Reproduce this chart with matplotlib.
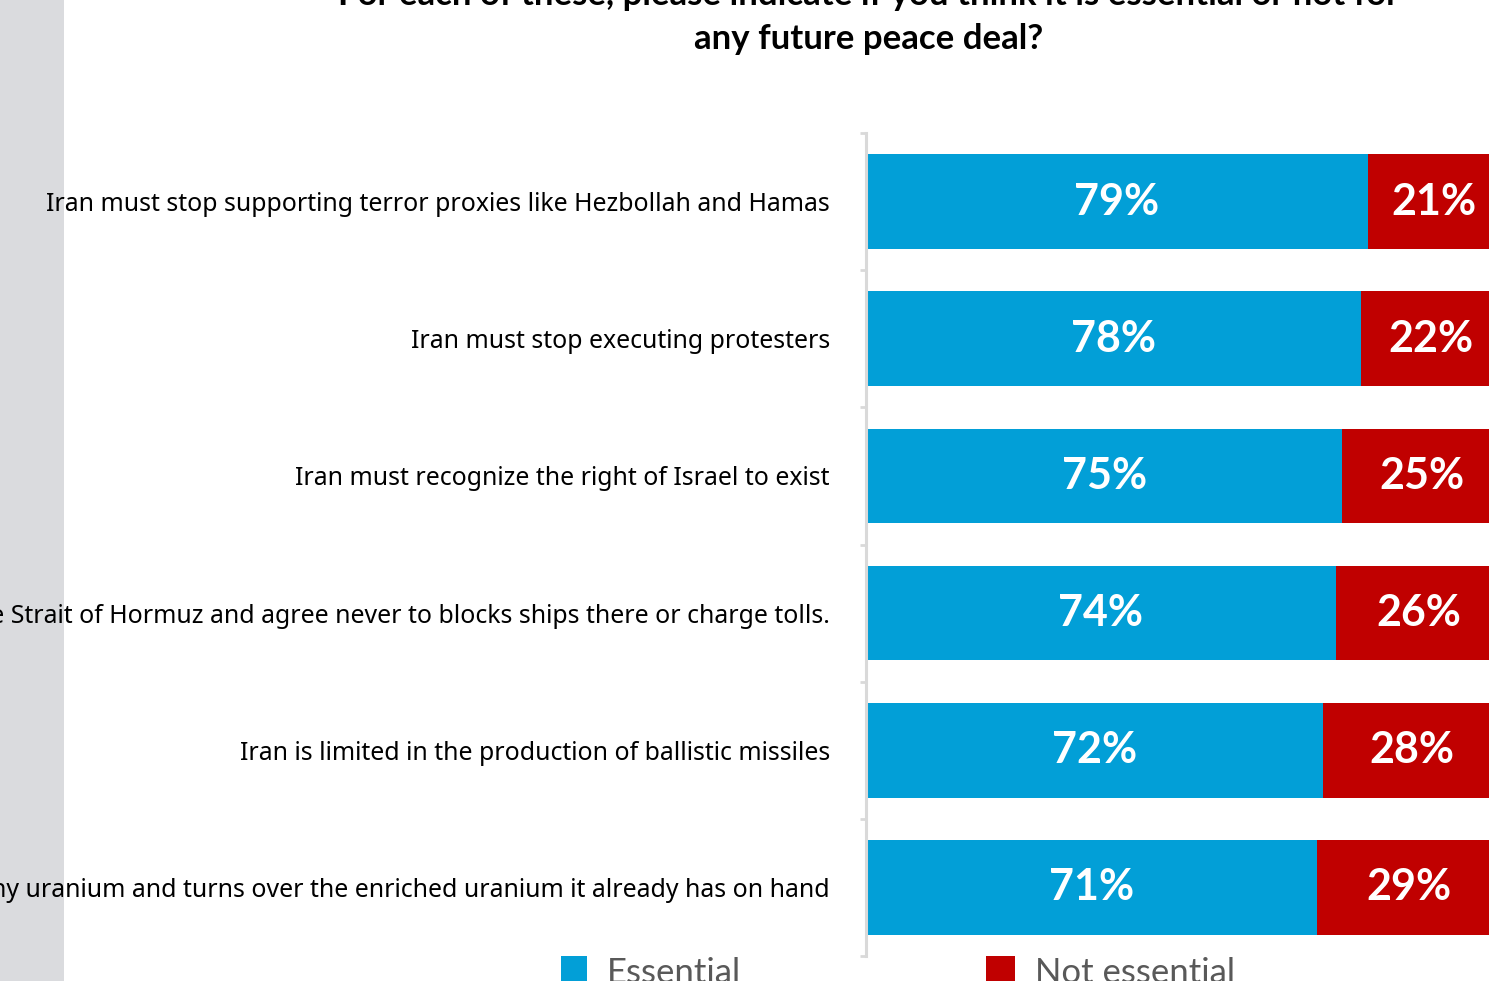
import numpy as np
import matplotlib.pyplot as plt
from matplotlib.patches import Rectangle

plt.rcParams['font.family'] = ['Lato', 'DejaVu Sans']

# survey items, top to bottom
items = [
    "Iran must stop supporting terror proxies like Hezbollah and Hamas",
    "Iran must stop executing protesters",
    "Iran must recognize the right of Israel to exist",
    "Iran must reopen the Strait of Hormuz and agree never to blocks ships there or charge tolls.",
    "Iran is limited in the production of ballistic missiles",
    "Iran agrees to stop enriching any uranium and turns over the enriched uranium it already has on hand",
]
essential = [79, 78, 75, 74, 72, 71]
not_essential = [21, 22, 25, 26, 28, 29]

title_1 = "For each of these, please indicate if you think it is essential or not for"
title_2 = "any future peace deal?"

blue = '#029FD7'
red = '#C00000'
W, H = 1489, 981

fig = plt.figure(figsize=(W / 100, H / 100), dpi=100)
fig.patches.append(Rectangle((0, 0), 64 / W, 1, transform=fig.transFigure,
                             facecolor='#DADBDE', edgecolor='none', zorder=0))

ax = fig.add_axes([866 / W, 1 - 956 / H, 1 - 866 / W, 823 / H])
ax.set_zorder(2)
ax.patch.set_alpha(0)

y = np.arange(len(items))
ax.barh(y, essential, height=0.69, color=blue, left=0)
ax.barh(y, not_essential, height=0.69, color=red, left=essential)

for i in range(len(items)):
    ax.text(essential[i] / 2, y[i], f"{essential[i]}%", ha='center', va='center',
            color='white', fontsize=31, fontweight='bold')
    ax.text(essential[i] + not_essential[i] / 2, y[i], f"{not_essential[i]}%",
            ha='center', va='center', color='white', fontsize=31, fontweight='bold')

ax.set_xlim(0, 100 * 622 / 634)
ax.set_ylim(len(items) - 0.5, -0.5)
ax.set_xticks([])
ax.set_yticks(y)
ax.set_yticklabels(items, fontsize=17.9, family=['Noto Sans', 'DejaVu Sans'])
ax.tick_params(axis='y', which='major', length=0, pad=26)
ax.set_yticks(np.arange(-0.5, len(items), 1), minor=True)
ax.tick_params(axis='y', which='minor', length=4, width=2, color='#D9D9D9')
for s in ['top', 'right', 'bottom']:
    ax.spines[s].set_visible(False)
ax.spines['left'].set_color('#D9D9D9')
ax.spines['left'].set_linewidth(2.2)

fig.text(868 / W, 1 - 5 / H, title_1, ha='center', va='baseline',
         fontsize=25, fontweight='bold')
fig.text(869 / W, 1 - 49 / H, title_2, ha='center', va='baseline',
         fontsize=25, fontweight='bold')

# legend
fig.patches.append(Rectangle((561 / W, -6 / H), 26 / W, 31 / H, transform=fig.transFigure,
                             facecolor=blue, edgecolor='none'))
fig.text(607 / W, -2 / H, "Essential", ha='left', va='baseline', fontsize=25, color='#595959')
fig.patches.append(Rectangle((986 / W, -6 / H), 29 / W, 31 / H, transform=fig.transFigure,
                             facecolor=red, edgecolor='none'))
fig.text(1035 / W, -2 / H, "Not essential", ha='left', va='baseline', fontsize=25, color='#595959')

fig.savefig('out.png', dpi=100)
